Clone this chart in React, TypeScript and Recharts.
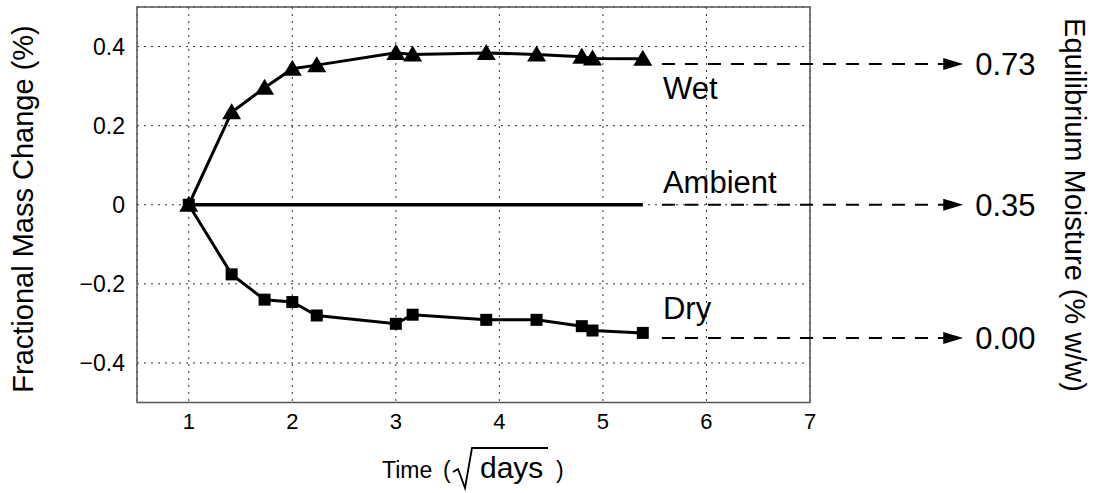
import React from 'react';
import {
  LineChart,
  Line,
  XAxis,
  YAxis,
  CartesianGrid,
  ReferenceArea,
  ReferenceLine,
  ReferenceDot,
} from 'recharts';

// time axis is sqrt(days)
const times = [1, 1.414, 1.732, 2, 2.236, 3, 3.162, 3.873, 4.359, 4.796, 4.899, 5.385];
const wet = [0, 0.234, 0.296, 0.344, 0.353, 0.384, 0.38, 0.384, 0.38, 0.374, 0.37, 0.369];
const dry = [0, -0.176, -0.24, -0.246, -0.28, -0.301, -0.278, -0.291, -0.291, -0.307, -0.318, -0.324];
const ambient = [0, 0, 0, 0, 0, 0, 0, 0, 0, 0, 0, 0];

const xTicks = [1, 2, 3, 4, 5, 6, 7];
const yTicks = [-0.4, -0.2, 0, 0.2, 0.4];

// right-hand annotations
const seriesNames = ['Wet', 'Ambient', 'Dry'];
const nameLevels = [0.296, 0.057, -0.261];
const moistureLabels = ['0.73', '0.35', '0.00'];
const moistureLevels = [0.356, 0, -0.337];
const arrowStart = 5.57;
const arrowEnd = 8.3;
const arrowTip = 8.48;

const data = times.map((t, i) => ({ t, wet: wet[i], dry: dry[i], ambient: ambient[i] }));

const FONT = '"Liberation Sans", Arial, Helvetica, sans-serif';

const fmtY = (v: number) => (v === 0 ? '0' : v < 0 ? '\u2212' + Math.abs(v).toFixed(1) : v.toFixed(1));

const Triangle = (props: any) => {
  const { cx, cy, index } = props;
  if (cx == null || cy == null) return <g key={index} />;
  return (
    <polygon
      key={`tri-${index}`}
      points={`${cx},${cy - 9} ${cx - 9.5},${cy + 7} ${cx + 9.5},${cy + 7}`}
      fill="#000"
    />
  );
};

const Square = (props: any) => {
  const { cx, cy, index } = props;
  if (cx == null || cy == null) return <g key={index} />;
  return <rect key={`sq-${index}`} x={cx - 6} y={cy - 6} width={12} height={12} fill="#000" />;
};

const Arrow = (props: any) => {
  const { cx, cy } = props;
  return <polygon points={`${cx},${cy} ${cx - 20},${cy - 6} ${cx - 20},${cy + 6}`} fill="#000" />;
};

const TimeLabel = () => (
  <g fontFamily={FONT} fill="#000">
    <text x={382} y={478} fontSize={23}>Time</text>
    <text x={443} y={478} fontSize={23}>(</text>
    <path d="M453 472 L458 469 L465 488 L472 448 L548 448" stroke="#000" strokeWidth={1.8} fill="none" />
    <text x={480} y={478} fontSize={30}>days</text>
    <text x={556} y={478} fontSize={23}>)</text>
  </g>
);

const LeftLabel = () => (
  <text
    transform="translate(33,209) rotate(-90)"
    textAnchor="middle"
    fontSize={29}
    fontFamily={FONT}
    fill="#000"
  >
    Fractional Mass Change (%)
  </text>
);

const RightLabel = () => (
  <text
    transform="translate(1065,205) rotate(90)"
    textAnchor="middle"
    fontSize={29}
    fontFamily={FONT}
    fill="#000"
  >
    Equilibrium Moisture (% w/w)
  </text>
);

export default function App() {
  return (
    <div style={{ position: 'absolute', left: 0, top: 0, width: 1098, height: 493, background: '#fff' }}>
      <LineChart
        width={1098}
        height={493}
        data={data}
        margin={{ top: 7, right: 288, bottom: 0, left: 0 }}
        style={{ fontFamily: FONT }}
      >
        <CartesianGrid horizontal={false} stroke="#333" strokeDasharray="2 5" strokeWidth={1} />
        <CartesianGrid vertical={false} stroke="#333" strokeDasharray="2 5" strokeWidth={1} />
        <XAxis
          dataKey="t"
          type="number"
          domain={[0.5, 7]}
          ticks={xTicks}
          allowDataOverflow
          axisLine={false}
          tickLine={false}
          tickSize={0}
          tickMargin={11}
          height={90.5}
          tick={{ fontSize: 22, fill: '#000', fontFamily: FONT }}
          label={{ content: TimeLabel }}
        />
        <YAxis
          type="number"
          domain={[-0.5, 0.5]}
          ticks={yTicks}
          allowDataOverflow
          axisLine={false}
          tickLine={false}
          tickSize={0}
          tickMargin={12}
          width={137}
          tickFormatter={fmtY}
          tick={{ fontSize: 23, fill: '#000', fontFamily: FONT }}
          label={{ content: LeftLabel }}
        />
        <ReferenceArea
          x1={0.5}
          x2={7}
          y1={-0.5}
          y2={0.5}
          fill="none"
          stroke="#555"
          strokeWidth={1.5}
          ifOverflow="visible"
          label={{ content: RightLabel }}
        />

        {moistureLevels.map((lv, i) => (
          <ReferenceLine
            key={`dash-${i}`}
            segment={[
              { x: arrowStart, y: lv },
              { x: arrowEnd, y: lv },
            ]}
            stroke="#000"
            strokeWidth={2}
            strokeDasharray="13 10"
            ifOverflow="visible"
          />
        ))}
        {moistureLevels.map((lv, i) => (
          <ReferenceDot
            key={`arrow-${i}`}
            x={arrowTip}
            y={lv}
            r={0}
            ifOverflow="visible"
            shape={Arrow}
            label={{
              value: moistureLabels[i],
              position: 'right',
              offset: 12,
              fontSize: 31,
              fill: '#000',
              fontFamily: FONT,
            }}
          />
        ))}
        {nameLevels.map((lv, i) => (
          <ReferenceDot
            key={`name-${i}`}
            x={arrowStart}
            y={lv}
            r={0}
            ifOverflow="visible"
            fill="none"
            stroke="none"
            label={{
              value: seriesNames[i],
              position: 'right',
              offset: 1,
              fontSize: 31,
              fill: '#000',
              fontFamily: FONT,
            }}
          />
        ))}

        <Line
          dataKey="ambient"
          stroke="#000"
          strokeWidth={3.5}
          dot={false}
          activeDot={false}
          isAnimationActive={false}
          type="linear"
        />
        <Line
          dataKey="dry"
          stroke="#000"
          strokeWidth={3}
          dot={Square}
          activeDot={false}
          isAnimationActive={false}
          type="linear"
        />
        <Line
          dataKey="wet"
          stroke="#000"
          strokeWidth={3}
          dot={Triangle}
          activeDot={false}
          isAnimationActive={false}
          type="linear"
        />
      </LineChart>
    </div>
  );
}
